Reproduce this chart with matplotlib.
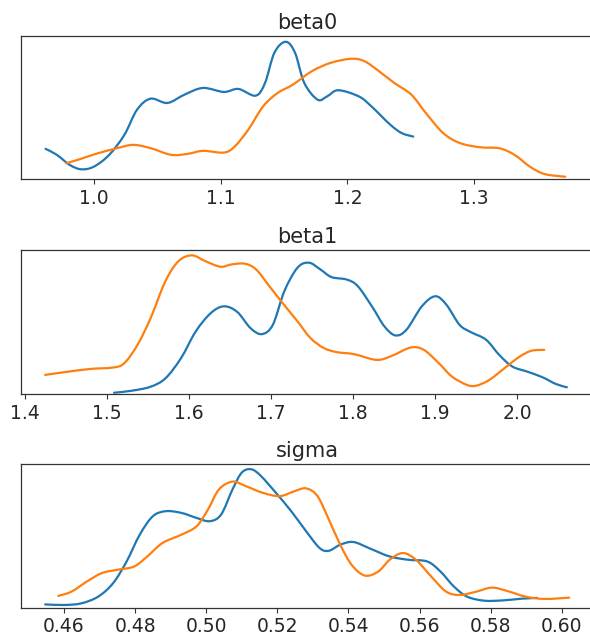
import matplotlib
matplotlib.use("Agg")
import matplotlib.pyplot as plt
from matplotlib.path import Path
from matplotlib.patches import PathPatch

titles = ["beta0", "beta1", "sigma"]

# beta0
b0_blue_x = [0.9618, 0.9707, 0.981, 0.990, 1.0, 1.012, 1.024, 1.034, 1.0447, 1.058, 1.0714, 1.086,
             1.1025, 1.114, 1.1276, 1.135, 1.1424, 1.1513, 1.1587, 1.166, 1.1765, 1.184, 1.1928,
             1.209, 1.219, 1.234, 1.243, 1.252]
b0_blue_y = [0.211, 0.169, 0.098, 0.068, 0.087, 0.169, 0.309, 0.485, 0.562, 0.532, 0.590, 0.637,
             0.609, 0.630, 0.583, 0.672, 0.883, 0.960, 0.883, 0.672, 0.555, 0.578, 0.621,
             0.578, 0.508, 0.379, 0.321, 0.297]
b0_orange_x = [0.978, 0.9885, 1.003, 1.018, 1.031, 1.045, 1.061, 1.074, 1.086, 1.1025, 1.111, 1.1217,
               1.1335, 1.145, 1.157, 1.172, 1.187, 1.203, 1.2135, 1.225, 1.237, 1.2505, 1.262,
               1.2757, 1.289, 1.305, 1.320, 1.332, 1.344, 1.3556, 1.372]
b0_orange_y = [0.110, 0.138, 0.180, 0.215, 0.239, 0.215, 0.169, 0.176, 0.197, 0.185, 0.227, 0.344,
               0.508, 0.602, 0.660, 0.754, 0.813, 0.841, 0.824, 0.754, 0.672, 0.590, 0.461,
               0.321, 0.251, 0.222, 0.215, 0.169, 0.087, 0.035, 0.016]

# beta1
b1_blue_x = [1.5084, 1.530, 1.553, 1.571, 1.590, 1.608, 1.6265, 1.6425, 1.6586, 1.6747, 1.6885, 1.702,
             1.716, 1.732, 1.746, 1.760, 1.7735, 1.792, 1.8056, 1.824, 1.838, 1.8515, 1.865,
             1.8837, 1.900, 1.9135, 1.9296, 1.9434, 1.962, 1.978, 1.994, 2.012, 2.031, 2.047, 2.0605]
b1_blue_y = [0.009, 0.023, 0.051, 0.109, 0.249, 0.435, 0.563, 0.609, 0.570, 0.458, 0.416, 0.481,
             0.714, 0.877, 0.912, 0.865, 0.812, 0.795, 0.749, 0.598, 0.470, 0.407, 0.447,
             0.609, 0.679, 0.621, 0.481, 0.430, 0.377, 0.272, 0.191, 0.156, 0.116, 0.070, 0.047]
b1_orange_x = [1.4243, 1.447, 1.479, 1.507, 1.5208, 1.537, 1.553, 1.571, 1.587, 1.6035, 1.6196, 1.638,
               1.6517, 1.6678, 1.6816, 1.6977, 1.7137, 1.732, 1.748, 1.7643, 1.780, 1.801, 1.8286,
               1.847, 1.870, 1.886, 1.9044, 1.9204, 1.9388, 1.950, 1.966, 1.987, 2.003, 2.017, 2.033]
b1_orange_y = [0.133, 0.151, 0.174, 0.184, 0.214, 0.342, 0.528, 0.784, 0.923, 0.963, 0.923, 0.884,
               0.900, 0.905, 0.865, 0.749, 0.633, 0.505, 0.388, 0.319, 0.291, 0.277, 0.237,
               0.265, 0.323, 0.307, 0.214, 0.121, 0.063, 0.058, 0.098, 0.191, 0.260, 0.300, 0.307]

# sigma
s_blue_x = [0.4547, 0.460, 0.4648, 0.4696, 0.4738, 0.4776, 0.4813, 0.485, 0.4887, 0.493, 0.4973, 0.501,
            0.5042, 0.5074, 0.510, 0.5127, 0.5154, 0.5196, 0.5239, 0.5281, 0.5319, 0.5345, 0.5377,
            0.5414, 0.5462, 0.5516, 0.5569, 0.5622, 0.5659, 0.5697, 0.5734, 0.5782, 0.5835, 0.5888, 0.5931]
s_blue_y = [0.023, 0.019, 0.030, 0.077, 0.171, 0.322, 0.509, 0.638, 0.673, 0.661, 0.626, 0.603,
            0.650, 0.825, 0.942, 0.965, 0.918, 0.801, 0.673, 0.533, 0.416, 0.397, 0.439,
            0.458, 0.411, 0.357, 0.334, 0.322, 0.252, 0.147, 0.077, 0.049, 0.051, 0.063, 0.068]
s_orange_x = [0.4584, 0.4621, 0.4664, 0.4706, 0.4749, 0.4797, 0.4834, 0.4877, 0.493, 0.4973, 0.5005, 0.5036,
              0.5074, 0.5111, 0.5159, 0.5207, 0.5249, 0.5281, 0.5313, 0.5345, 0.5377, 0.5409, 0.5446,
              0.5484, 0.5516, 0.5553, 0.559, 0.5633, 0.5675, 0.5713, 0.576, 0.5803, 0.5846, 0.5899,
              0.5952, 0.6021]
s_orange_y = [0.082, 0.112, 0.182, 0.241, 0.264, 0.287, 0.357, 0.451, 0.509, 0.568, 0.685, 0.825,
              0.879, 0.848, 0.801, 0.778, 0.813, 0.832, 0.778, 0.614, 0.439, 0.299, 0.224,
              0.252, 0.334, 0.381, 0.334, 0.217, 0.112, 0.089, 0.112, 0.140, 0.117, 0.077,
              0.061, 0.070]

series = [
    (b0_blue_x, b0_blue_y, b0_orange_x, b0_orange_y),
    (b1_blue_x, b1_blue_y, b1_orange_x, b1_orange_y),
    (s_blue_x, s_blue_y, s_orange_x, s_orange_y),
]
ticks = [
    [1.0, 1.1, 1.2, 1.3],
    [1.4, 1.5, 1.6, 1.7, 1.8, 1.9, 2.0],
    [0.46, 0.48, 0.50, 0.52, 0.54, 0.56, 0.58, 0.60],
]
tick_labels = [
    ["1.0", "1.1", "1.2", "1.3"],
    ["1.4", "1.5", "1.6", "1.7", "1.8", "1.9", "2.0"],
    ["0.46", "0.48", "0.50", "0.52", "0.54", "0.56", "0.58", "0.60"],
]
xlims = [(0.9424, 1.3939), (1.3949, 2.0924), (0.4479, 0.6088)]

positions = [
    [0.0356, 0.7194, 0.9695, 0.2241],
    [0.0356, 0.3824, 0.9695, 0.2257],
    [0.0356, 0.0475, 0.9695, 0.2248],
]


def smooth_curve(ax, xs, ys, color):
    """Draw a smooth curve through the read points (Catmull-Rom as cubic Bezier path)."""
    n = len(xs)
    verts = [(xs[0], ys[0])]
    codes = [Path.MOVETO]
    for i in range(n - 1):
        x0, y0 = (xs[i - 1], ys[i - 1]) if i > 0 else (xs[i], ys[i])
        x1, y1 = xs[i], ys[i]
        x2, y2 = xs[i + 1], ys[i + 1]
        x3, y3 = (xs[i + 2], ys[i + 2]) if i + 2 < n else (xs[i + 1], ys[i + 1])
        c1 = (x1 + (x2 - x0) / 6.0, y1 + (y2 - y0) / 6.0)
        c2 = (x2 - (x3 - x1) / 6.0, y2 - (y3 - y1) / 6.0)
        verts += [c1, c2, (x2, y2)]
        codes += [Path.CURVE4, Path.CURVE4, Path.CURVE4]
    patch = PathPatch(Path(verts, codes), facecolor="none", edgecolor=color,
                      lw=1.6, capstyle="round", joinstyle="round")
    ax.add_patch(patch)


fig = plt.figure(figsize=(5.9, 6.38), dpi=100)
for i in range(3):
    ax = fig.add_axes(positions[i])
    bx, by, ox, oy = series[i]
    smooth_curve(ax, bx, by, "#1f77b4")
    smooth_curve(ax, ox, oy, "#ff7f0e")
    ax.set_xlim(*xlims[i])
    ax.set_ylim(0, 1.0)
    ax.set_yticks([])
    ax.set_xticks(ticks[i])
    ax.set_xticklabels(tick_labels[i], fontsize=13.5, color="#262626")
    ax.tick_params(axis="x", length=3.5, color="#333333")
    ax.set_title(titles[i], fontsize=15, color="#262626", pad=5)
    for sp in ax.spines.values():
        sp.set_color("#333333")
        sp.set_linewidth(0.9)

fig.savefig("out.png", dpi=100)
